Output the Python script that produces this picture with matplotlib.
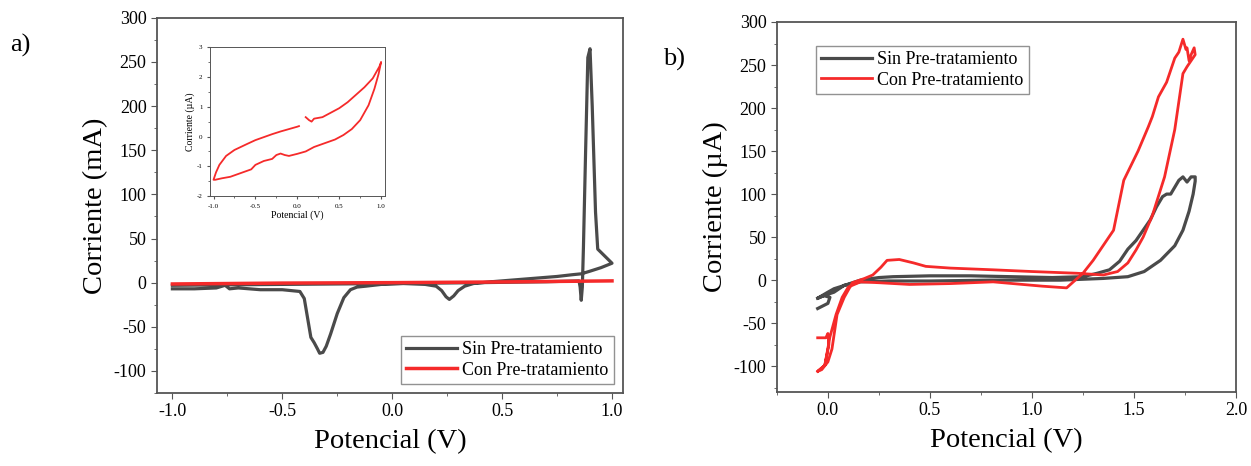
import numpy as np
import matplotlib.pyplot as plt
from matplotlib.ticker import MultipleLocator

plt.rcParams['font.family'] = ['Liberation Serif', 'DejaVu Serif']
plt.rcParams['axes.unicode_minus'] = False

# --- panel a: Sin Pre-tratamiento (mA)
sin_a_x = [-1.0, -0.9, -0.8, -0.76, -0.74, -0.7, -0.6, -0.5, -0.42, -0.4, -0.385, -0.37, -0.355,
           -0.34, -0.33, -0.315, -0.3, -0.28, -0.25, -0.22, -0.19, -0.16, -0.12, -0.05, 0.05,
           0.15, 0.2, 0.225, 0.245, 0.26, 0.28, 0.3, 0.33, 0.37, 0.45, 0.55, 0.65, 0.75, 0.82,
           0.86, 0.9, 0.95, 1.0, 0.935, 0.925, 0.91, 0.9, 0.89, 0.88, 0.87, 0.865, 0.86, 0.855,
           0.85, 0.7, 0.4, 0.0, -0.5, -1.0]
sin_a_y = [-7, -7, -6, -3, -7, -6, -8, -8, -10, -18, -40, -62, -68,
           -75, -80, -79, -72, -58, -35, -17, -8, -5, -4, -2, -1,
           -2, -4, -9, -16, -19, -15, -9, -4, -1, 1, 3, 5, 7, 9,
           10, 13, 17, 22, 38, 80, 200, 265, 255, 150, 40, -5, -20, -5,
           2, 1, 0, -1, -2, -3]

# --- panel a: Con Pre-tratamiento (mA)
con_a_x = [-1.0, -0.5, 0.0, 0.5, 1.0]
con_a_y = [-1.5, -0.5, 0.0, 0.8, 2.0]

# --- inset: Con Pre-tratamiento (uA)
ins_x = [0.1, 0.14, 0.17, 0.2, 0.3, 0.4, 0.5, 0.6, 0.7, 0.8, 0.9, 0.98, 1.0,
         0.97, 0.92, 0.85, 0.75, 0.65, 0.55, 0.45, 0.35, 0.2, 0.1, 0.0, -0.1, -0.15,
         -0.2, -0.25, -0.3, -0.4, -0.5, -0.55, -0.6, -0.7, -0.8, -0.9, -0.98, -1.0,
         -0.97, -0.93, -0.85, -0.75, -0.6, -0.5, -0.4, -0.3, -0.2, -0.1, 0.0, 0.02]
ins_y = [0.65, 0.55, 0.5, 0.6, 0.65, 0.8, 0.95, 1.15, 1.4, 1.65, 1.95, 2.35, 2.5,
         2.1, 1.6, 1.05, 0.55, 0.25, 0.05, -0.1, -0.2, -0.35, -0.5, -0.58, -0.65, -0.62,
         -0.57, -0.62, -0.75, -0.82, -0.95, -1.1, -1.15, -1.25, -1.35, -1.4, -1.45, -1.45,
         -1.2, -0.95, -0.65, -0.45, -0.25, -0.12, -0.02, 0.08, 0.17, 0.25, 0.33, 0.35]

# --- panel b: Sin Pre-tratamiento (uA)
sin_b_x = [-0.05, 0.0, 0.01, -0.02, -0.05, 0.0, 0.03, 0.07, 0.12, 0.16, 0.25, 0.32, 0.5, 0.7,
           0.9, 1.1, 1.25, 1.32, 1.38, 1.43, 1.47, 1.51, 1.545, 1.58, 1.61, 1.64, 1.66, 1.68,
           1.7, 1.72, 1.74, 1.76, 1.78, 1.8, 1.8, 1.79, 1.77, 1.74, 1.7, 1.63, 1.55, 1.47,
           1.35, 1.14, 0.8, 0.5, 0.3, 0.16, 0.08, 0.03, -0.02, -0.05]
sin_b_y = [-33, -27, -20, -18, -21, -14, -10, -7, -3, 0, 3, 4, 5, 5,
           4, 3, 4, 8, 12, 22, 36, 46, 58, 70, 85, 97, 100, 100,
           108, 116, 120, 114, 120, 120, 115, 100, 80, 58, 40, 23, 10, 4,
           2, 0, 0, -1, -1, -2, -6, -14, -18, -21]

# --- panel b: Con Pre-tratamiento (uA)
con_b_x = [-0.05, -0.01, 0.0, 0.005, -0.015, -0.05, -0.03, 0.0, 0.02, 0.045, 0.08, 0.12, 0.18,
           0.22, 0.26, 0.29, 0.35, 0.42, 0.48, 0.6, 0.81, 1.0, 1.22, 1.35, 1.42, 1.47, 1.51,
           1.545, 1.59, 1.65, 1.7, 1.74, 1.76, 1.78, 1.8, 1.795, 1.78, 1.77, 1.76, 1.755, 1.74,
           1.72, 1.7, 1.66, 1.62, 1.59, 1.57, 1.52, 1.45, 1.4, 1.3, 1.25, 1.17, 1.05, 0.81,
           0.6, 0.4, 0.25, 0.16, 0.1, 0.07, 0.04, 0.01, -0.015, -0.05]
con_b_y = [-67, -67, -62, -75, -99, -106, -104, -95, -80, -40, -20, -3, 2,
           6, 15, 23, 24, 20, 16, 14, 12, 10, 8, 6, 10, 20, 35,
           50, 75, 120, 175, 240, 248, 255, 262, 270, 262, 255, 270, 268, 280,
           265, 258, 230, 213, 190, 178, 150, 116, 58, 23, 8, -9, -7, -2,
           -4, -5, -3, -2, -8, -20, -40, -66, -99, -106]

gray = '#4a4a4a'
red = '#f52a2a'

fig = plt.figure(figsize=(12.51, 4.66), dpi=100)

def style(ax, size=13, major=4, minor=2.5):
    for s in ax.spines.values():
        s.set_color('#555555')
        s.set_linewidth(1.3)
    ax.tick_params(which='both', direction='out', top=False, right=False, labelsize=size,
                   color='#555555')
    ax.tick_params(which='major', length=major)
    ax.tick_params(which='minor', length=minor)

# ---- a)
ax1 = fig.add_axes([0.1255, 0.1567, 0.3725, 0.805])
ax1.plot(sin_a_x, sin_a_y, color=gray, lw=2.3, label='Sin Pre-tratamiento')
ax1.plot(con_a_x, con_a_y, color=red, lw=2.5, label='Con Pre-tratamiento')
ax1.set_xlim(-1.07, 1.05)
ax1.set_ylim(-125, 300)
ax1.xaxis.set_major_locator(MultipleLocator(0.5))
ax1.xaxis.set_minor_locator(MultipleLocator(0.25))
ax1.yaxis.set_major_locator(MultipleLocator(50))
ax1.yaxis.set_minor_locator(MultipleLocator(25))
ax1.set_xlabel('Potencial (V)', fontsize=20.5, labelpad=6)
ax1.set_ylabel('Corriente (mA)', fontsize=20.5, labelpad=4)
style(ax1)
leg = ax1.legend(loc='lower right', fontsize=13, fancybox=False, edgecolor='#777777',
                 handlelength=2.8, borderpad=0.3, labelspacing=0.2, handletextpad=0.3,
                 borderaxespad=0.5)
leg.get_frame().set_linewidth(1.0)

# inset
axi = fig.add_axes([0.168, 0.579, 0.140, 0.320])
axi.plot(ins_x, ins_y, color=red, lw=1.3)
axi.set_xlim(-1.04, 1.05)
axi.set_ylim(-2, 3)
axi.xaxis.set_major_locator(MultipleLocator(0.5))
axi.xaxis.set_minor_locator(MultipleLocator(0.25))
axi.yaxis.set_major_locator(MultipleLocator(1))
axi.yaxis.set_minor_locator(MultipleLocator(0.5))
axi.set_xlabel('Potencial (V)', fontsize=7, labelpad=1)
axi.set_ylabel('Corriente (µA)', fontsize=7, labelpad=1)
style(axi, size=5, major=2, minor=1.2)
for s in axi.spines.values():
    s.set_linewidth(0.7)

# ---- b)
ax2 = fig.add_axes([0.621, 0.1588, 0.367, 0.794])
ax2.plot(sin_b_x, sin_b_y, color=gray, lw=2.3, label='Sin Pre-tratamiento')
ax2.plot(con_b_x, con_b_y, color=red, lw=2.0, label='Con Pre-tratamiento')
ax2.set_xlim(-0.25, 2.0)
ax2.set_ylim(-130, 300)
ax2.xaxis.set_major_locator(MultipleLocator(0.5))
ax2.xaxis.set_minor_locator(MultipleLocator(0.25))
ax2.yaxis.set_major_locator(MultipleLocator(50))
ax2.yaxis.set_minor_locator(MultipleLocator(25))
ax2.set_xlabel('Potencial (V)', fontsize=20.5, labelpad=6)
ax2.set_ylabel('Corriente (µA)', fontsize=20.5, labelpad=4)
style(ax2)
leg2 = ax2.legend(loc='upper left', fontsize=13, fancybox=False, edgecolor='#777777',
                  handlelength=2.8, borderpad=0.3, labelspacing=0.2, handletextpad=0.3,
                  borderaxespad=1.0, bbox_to_anchor=(0.045, 0.985))
leg2.get_frame().set_linewidth(1.0)

fig.text(0.008, 0.89, 'a)', fontsize=19)
fig.text(0.53, 0.86, 'b)', fontsize=19)

fig.savefig('out.png', dpi=100)
